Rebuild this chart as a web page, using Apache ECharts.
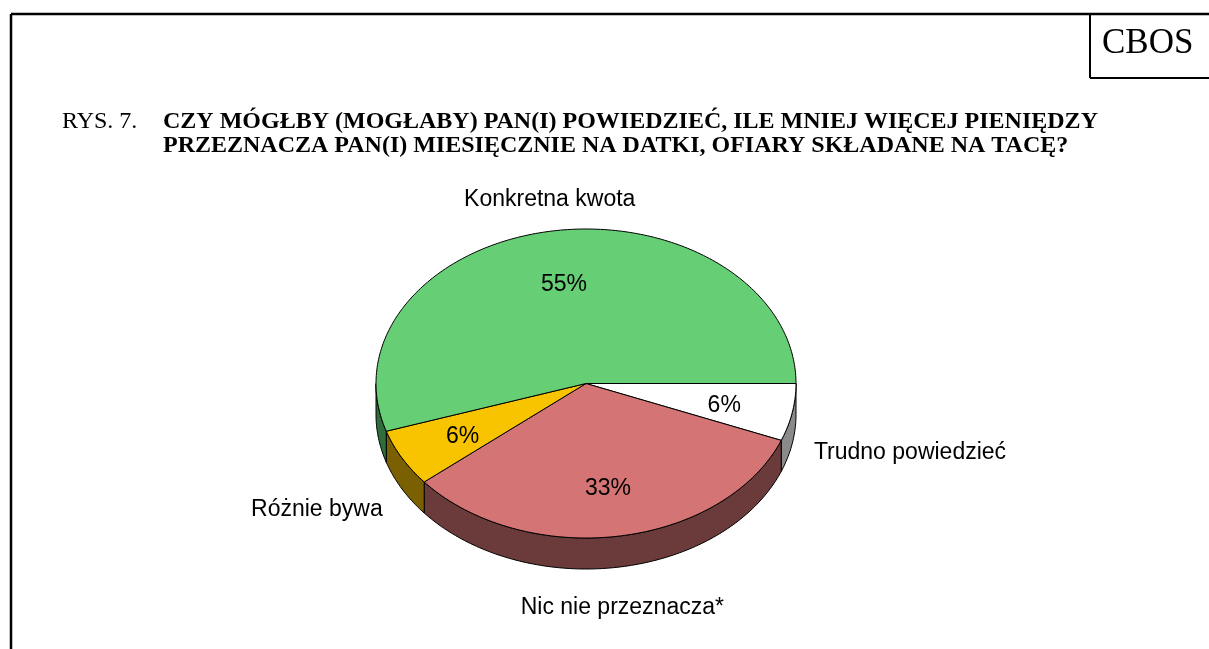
<!DOCTYPE html>
<html>
<head>
<meta charset="utf-8">
<script src="https://cdn.jsdelivr.net/npm/echarts@6/dist/echarts.min.js"></script>
<style>
  html, body { margin: 0; padding: 0; background: #fff; }
  #container { width: 1209px; height: 649px; }
</style>
</head>
<body>
<div id="container"></div>
<script>
// dane z rysunku (kolejność zgodnie z ruchem wskazówek zegara od godz. 3)
var categories = ['Trudno powiedzieć', 'Nic nie przeznacza*', 'Różnie bywa', 'Konkretna kwota'];
var values = [6, 33, 6, 55];
var topColors = ['#ffffff', '#d47474', '#f8c400', '#66cf75'];
var sideColors = ['#8a8a8a', '#6b3a3a', '#7a6000', '#2f6e3c'];

var titleLines = [
	'CZY MÓGŁBY (MOGŁABY) PAN(I) POWIEDZIEĆ, ILE MNIEJ WIĘCEJ PIENIĘDZY',
	'PRZEZNACZA PAN(I) MIESIĘCZNIE NA DATKI, OFIARY SKŁADANE NA TACĘ?'
];

var dom = document.getElementById('container');
var myChart = echarts.init(dom, null, { renderer: 'canvas' });

// geometria "3D" tortu
var CX = 586, CY = 383.5, RX = 210, RY = 154.5, DEPTH = 31;
var total = values.reduce(function(a, b) { return a + b; }, 0);

function sliceAngles(idx) {
	var start = 0;
	for (var i = 0; i < idx; i++) start += values[i];
	return [start / total * Math.PI * 2, (start + values[idx]) / total * Math.PI * 2];
}

function arcPoints(a1, a2, dy) {
	var pts = [];
	var n = Math.max(2, Math.ceil((a2 - a1) / (Math.PI / 180)));
	for (var i = 0; i <= n; i++) {
		var t = a1 + (a2 - a1) * i / n;
		pts.push([CX + RX * Math.cos(t), CY + RY * Math.sin(t) + dy]);
	}
	return pts;
}

function renderSide(params, api) {
	var idx = params.dataIndex;
	var a = sliceAngles(idx);
	var a1 = Math.max(a[0], 0), a2 = Math.min(a[1], Math.PI);
	if (a2 <= a1) return;
	var pts = arcPoints(a1, a2, 0).concat(arcPoints(a1, a2, DEPTH).reverse());
	return {
		type: 'polygon',
		shape: { points: pts },
		style: { fill: sideColors[idx], stroke: '#000', lineWidth: 1 }
	};
}

function renderTop(params, api) {
	var idx = params.dataIndex;
	var a = sliceAngles(idx);
	var pts = [[CX, CY]].concat(arcPoints(a[0], a[1], 0));
	var m = (a[0] + a[1]) / 2;
	var c = Math.cos(m), s = Math.sin(m);
	// etykieta procentowa wewnątrz
	var px = CX + RX * 0.67 * c, py = CY + RY * 0.67 * s + 3;
	// nazwa kategorii na zewnątrz
	var ex = CX + RX * c, ey = CY + RY * s + (s > 0 ? DEPTH : 0);
	var nx = ex + c * 22, ny = ey + s * (s < 0 ? 34 : 39) + 2;
	var align = c > 0.4 ? 'left' : (c < -0.4 ? 'right' : 'center');
	return {
		type: 'group',
		children: [{
			type: 'polygon',
			shape: { points: pts },
			style: { fill: topColors[idx], stroke: '#000', lineWidth: 1 }
		}, {
			type: 'text',
			style: {
				text: api.value(0) + '%', x: px, y: py,
				align: 'center', verticalAlign: 'middle',
				fill: '#000', font: '23px "Liberation Sans", Arial, sans-serif'
			}
		}, {
			type: 'text',
			style: {
				text: categories[idx], x: nx, y: ny,
				align: align, verticalAlign: 'middle',
				fill: '#000', font: '23px "Liberation Sans", Arial, sans-serif'
			}
		}]
	};
}

var option = {
	backgroundColor: '#fff',
	animation: false,
	graphic: [
		{ type: 'line', shape: { x1: 11, y1: 14, x2: 1209, y2: 14 }, style: { stroke: '#000', lineWidth: 2.5 } },
		{ type: 'line', shape: { x1: 11, y1: 14, x2: 11, y2: 649 }, style: { stroke: '#000', lineWidth: 2.5 } },
		{ type: 'line', shape: { x1: 1090, y1: 14, x2: 1090, y2: 78 }, style: { stroke: '#000', lineWidth: 2 } },
		{ type: 'line', shape: { x1: 1090, y1: 78, x2: 1209, y2: 78 }, style: { stroke: '#000', lineWidth: 2 } },
		{ type: 'text', left: 1102, top: 26, style: { text: 'CBOS', fill: '#000', font: '35px "Liberation Serif", "Times New Roman", serif' } },
		{ type: 'text', left: 62, top: 110, style: { text: 'RYS. 7.', fill: '#000', font: '24px "Liberation Serif", "Times New Roman", serif' } },
		{ type: 'text', left: 163, top: 110, style: { text: titleLines[0], fill: '#000', font: 'bold 24px "Liberation Serif", "Times New Roman", serif' } },
		{ type: 'text', left: 163, top: 134, style: { text: titleLines[1], fill: '#000', font: 'bold 24px "Liberation Serif", "Times New Roman", serif' } }
	],
	series: [{
		type: 'custom',
		coordinateSystem: 'none',
		silent: true,
		z: 1,
		renderItem: renderSide,
		data: values
	}, {
		type: 'custom',
		coordinateSystem: 'none',
		silent: true,
		z: 2,
		renderItem: renderTop,
		data: values
	}]
};
myChart.setOption(option, true);
</script>
</body>
</html>
